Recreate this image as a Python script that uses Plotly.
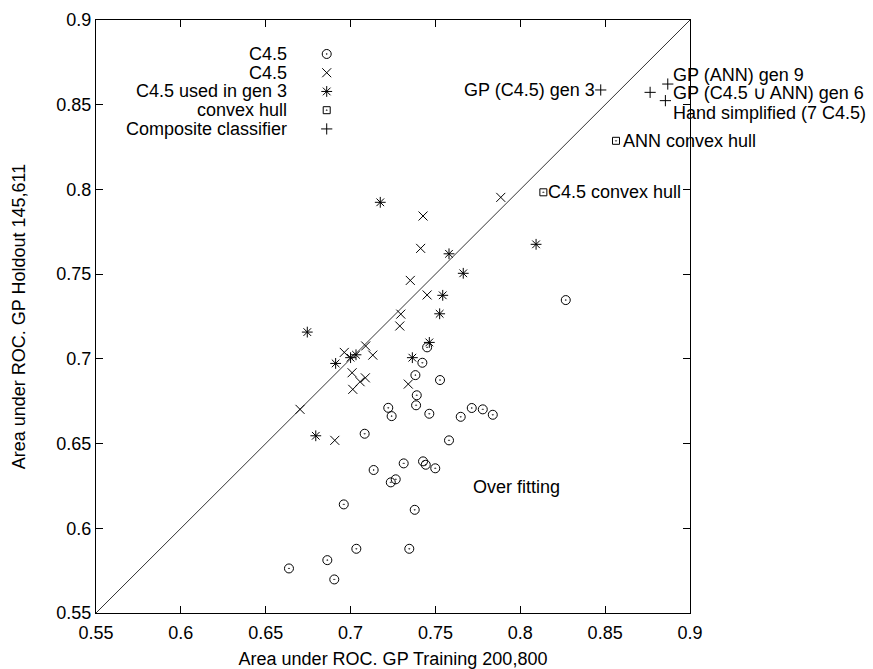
import plotly.graph_objects as go

# ---- data ----
c45_circle_x = [0.7451, 0.7423, 0.7382, 0.7527, 0.7390, 0.7386, 0.7222, 0.7242, 0.7464, 0.7649,
                0.7714, 0.7779, 0.7838, 0.7083, 0.7580, 0.7136, 0.7313, 0.7427, 0.7443, 0.7499,
                0.7266, 0.7237, 0.6960, 0.7378, 0.7034, 0.7346, 0.6863, 0.6637, 0.6904, 0.8268]
c45_circle_y = [0.7068, 0.6977, 0.6904, 0.6875, 0.6785, 0.6726, 0.6711, 0.6662, 0.6676, 0.6658,
                0.6710, 0.6702, 0.6670, 0.6558, 0.6519, 0.6344, 0.6383, 0.6395, 0.6375, 0.6354,
                0.6289, 0.6271, 0.6141, 0.6109, 0.5879, 0.5879, 0.5812, 0.5763, 0.5698, 0.7347]

c45_x_x = [0.7885, 0.7427, 0.7413, 0.7352, 0.7451, 0.7296, 0.7290, 0.7089, 0.6963, 0.7131,
           0.7009, 0.7087, 0.7056, 0.7013, 0.7340, 0.6702, 0.6907]
c45_x_y = [0.7953, 0.7843, 0.7652, 0.7463, 0.7377, 0.7264, 0.7194, 0.7076, 0.7038, 0.7022,
           0.6918, 0.6888, 0.6865, 0.6820, 0.6851, 0.6702, 0.6519]

gen3_x = [0.7175, 0.7580, 0.8093, 0.7664, 0.7543, 0.7525, 0.7464, 0.6745, 0.7364, 0.7032,
          0.7000, 0.6912, 0.6795]
gen3_y = [0.7924, 0.7620, 0.7676, 0.7505, 0.7375, 0.7266, 0.7097, 0.7158, 0.7007, 0.7024,
          0.7007, 0.6973, 0.6546]

hull_x = [0.8136, 0.8564]
hull_y = [0.7983, 0.8287]
hull_labels = ["C4.5 convex hull", "ANN convex hull"]

comp_x = [0.8474, 0.8869, 0.8765, 0.8855]
comp_y = [0.8587, 0.8622, 0.8573, 0.8524]

axis_range = [0.55, 0.9]
tick_vals = [0.55, 0.6, 0.65, 0.7, 0.75, 0.8, 0.85, 0.9]
tick_text = ["0.55", "0.6", "0.65", "0.7", "0.75", "0.8", "0.85", "0.9"]

legend_names = ["C4.5", "C4.5", "C4.5 used in gen 3", "convex hull", "Composite classifier"]

FONT = "Liberation Sans, Arial, Helvetica, sans-serif"
FS = 18

fig = go.Figure()

# diagonal y = x
fig.add_trace(go.Scatter(x=axis_range, y=axis_range, mode="lines",
                         line=dict(color="#333333", width=1), showlegend=False, hoverinfo="skip"))

styles = [
    dict(symbol="circle-open-dot", size=9, line=dict(width=1, color="black")),
    dict(symbol="x-thin-open", size=9, line=dict(width=1, color="black")),
    dict(symbol="asterisk-open", size=9, line=dict(width=1, color="black")),
    dict(symbol="square-open-dot", size=7, line=dict(width=1, color="black")),
    dict(symbol="cross-thin-open", size=8, line=dict(width=1, color="black")),
]
series = [(c45_circle_x, c45_circle_y), (c45_x_x, c45_x_y), (gen3_x, gen3_y),
          (hull_x, hull_y), (comp_x, comp_y)]
for (sx, sy), st in zip(series, styles):
    fig.add_trace(go.Scatter(x=sx, y=sy, mode="markers", marker=dict(color="black", **st),
                             showlegend=False, cliponaxis=False))

# manual legend (text right-aligned, symbol to its right) on overlay axes in [0,1]
leg_sym_x = 0.3884
leg_txt_x = 0.3237
leg_top = 0.9427
leg_step = 0.0316
leg_y = [leg_top - i * leg_step for i in range(len(legend_names))]
for i, st in enumerate(styles):
    fig.add_trace(go.Scatter(x=[leg_sym_x], y=[leg_y[i]], xaxis="x2", yaxis="y2", mode="markers",
                             marker=dict(color="black", **st), showlegend=False))
annotations = []
for name, yy in zip(legend_names, leg_y):
    annotations.append(dict(x=leg_txt_x, y=yy, xref="paper", yref="paper", text=name,
                            showarrow=False, xanchor="right", yanchor="middle", borderpad=0,
                            font=dict(family=FONT, size=FS, color="black")))

# point labels
def lab(text, x, y, anchor="left", xshift=0):
    annotations.append(dict(x=x, y=y, xref="x", yref="y", text=text, showarrow=False,
                            xanchor=anchor, yanchor="middle", xshift=xshift, borderpad=0,
                            font=dict(family=FONT, size=FS, color="black")))

lab("GP (C4.5) gen 3", comp_x[0], comp_y[0], "right", -5)
lab("GP (ANN) gen 9", 0.8894, 0.8677)
lab("GP (C4.5 \u222A ANN) gen 6", 0.8894, 0.8567)
lab("Hand simplified (7 C4.5)", 0.8894, 0.8453)
lab(hull_labels[1], hull_x[1], hull_y[1], "left", 6)
lab(hull_labels[0], hull_x[0], hull_y[0], "left", 4)
lab("Over fitting", 0.7716, 0.6245)

axis_common = dict(range=axis_range, tickvals=tick_vals, ticktext=tick_text,
                   ticks="inside", ticklen=7, tickcolor="black", tickwidth=1,
                   showline=True, linecolor="black", linewidth=1, mirror="ticks",
                   showgrid=False, zeroline=False,
                   tickfont=dict(family=FONT, size=FS, color="black"))

fig.update_layout(
    width=873, height=669,
    margin=dict(l=96, r=183, t=20, b=56, autoexpand=False),
    paper_bgcolor="white", plot_bgcolor="white",
    showlegend=False,
    xaxis=dict(**axis_common, ticklabelstandoff=3,
               title=dict(text="Area under ROC. GP Training 200,800",
                          font=dict(family=FONT, size=FS, color="black"), standoff=17)),
    yaxis=dict(**axis_common,
               title=dict(text="Area under ROC. GP Holdout 145,611",
                          font=dict(family=FONT, size=FS, color="black"), standoff=26)),
    xaxis2=dict(range=[0, 1], overlaying="x", visible=False),
    yaxis2=dict(range=[0, 1], overlaying="y", visible=False),
    annotations=annotations,
)

fig.write_html("out.html", config={"displayModeBar": False},
               post_script="document.body.style.margin='0';document.body.style.padding='0';")
